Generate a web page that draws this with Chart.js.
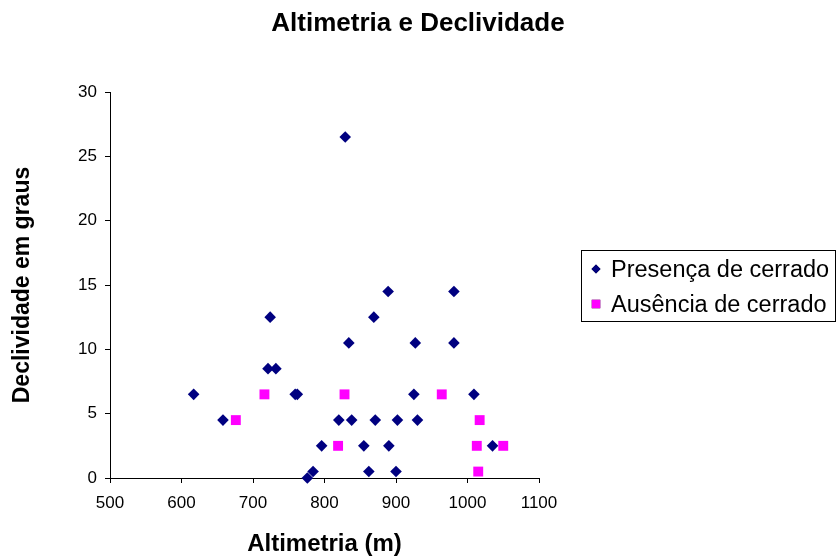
<!DOCTYPE html>
<html>
<head>
<meta charset="utf-8">
<script src="https://cdn.jsdelivr.net/npm/chart.js@4/dist/chart.umd.min.js"></script>
<style>
  html, body { margin: 0; padding: 0; background: #ffffff; }
  #wrap { width: 837px; height: 557px; }
</style>
</head>
<body>
<div id="wrap"><canvas id="c" width="837" height="557"></canvas></div>
<script>
// ---- Data ----
const chartTitle = "Altimetria e Declividade";
const xAxisTitle = "Altimetria (m)";
const yAxisTitle = "Declividade em graus";
const seriesNames = ["Presença de cerrado", "Ausência de cerrado"];

const presenceAlt = [617, 658, 721, 724, 732, 759, 762, 776, 784, 796, 820, 829, 834, 838, 855, 862, 869, 871, 889, 890, 900, 902, 925, 927, 930, 981, 981, 1009, 1035];
const presenceDecl = [6.5, 4.5, 8.5, 12.5, 8.5, 6.5, 6.5, 0, 0.5, 2.5, 4.5, 26.5, 10.5, 4.5, 2.5, 0.5, 12.5, 4.5, 14.5, 2.5, 0.5, 4.5, 6.5, 10.5, 4.5, 14.5, 10.5, 6.5, 2.5];

const absenceAlt = [676, 716, 819, 828, 964, 1013, 1015, 1017, 1050];
const absenceDecl = [4.5, 6.5, 2.5, 6.5, 6.5, 2.5, 0.5, 4.5, 2.5];

const xTicks = [500, 600, 700, 800, 900, 1000, 1100];
const yTicks = [0, 5, 10, 15, 20, 25, 30];

// ---- Build chart ----
const FONT = '"Liberation Sans", Arial, Helvetica, sans-serif';
const NAVY = '#000080';
const MAGENTA = '#FF00FF';

function toPoints(xs, ys) { return xs.map((x, i) => ({ x: x, y: ys[i] })); }

const titleAndLegend = {
  id: 'titleAndLegend',
  afterDraw(chart) {
    const ctx = chart.ctx;
    ctx.save();
    // Title
    ctx.fillStyle = '#000';
    ctx.font = 'bold 26px ' + FONT;
    ctx.textAlign = 'center';
    ctx.textBaseline = 'middle';
    ctx.fillText(chartTitle, 418, 24);

    // Legend box
    ctx.strokeStyle = '#000';
    ctx.lineWidth = 1;
    ctx.strokeRect(581.5, 250.5, 254, 71);

    const rows = [
      { y: 269, style: 'rectRot', color: NAVY, r: 4.5 },
      { y: 304, style: 'rect', color: MAGENTA, r: 6 }
    ];
    rows.forEach((row, i) => {
      Chart.helpers.drawPoint(ctx, {
        pointStyle: row.style, radius: row.r, rotation: 0, borderWidth: 0
      }, 596, row.y);
      ctx.fillStyle = row.color;
      ctx.fill();
      ctx.fillStyle = '#000';
      ctx.font = '23.5px ' + FONT;
      ctx.textAlign = 'left';
      ctx.textBaseline = 'alphabetic';
      ctx.fillText(seriesNames[i], 611, row.y + 8);
    });
    ctx.restore();
  }
};

new Chart(document.getElementById('c'), {
  type: 'scatter',
  data: {
    datasets: [
      {
        label: seriesNames[0],
        data: toPoints(presenceAlt, presenceDecl),
        pointStyle: 'rectRot',
        pointRadius: 5.8,
        pointHoverRadius: 5.8,
        backgroundColor: NAVY,
        borderColor: NAVY,
        borderWidth: 0,
        clip: false,
        order: 1
      },
      {
        label: seriesNames[1],
        data: toPoints(absenceAlt, absenceDecl),
        pointStyle: 'rect',
        pointRadius: 7,
        pointHoverRadius: 7,
        backgroundColor: MAGENTA,
        borderColor: MAGENTA,
        borderWidth: 0,
        clip: false,
        order: 0
      }
    ]
  },
  options: {
    responsive: false,
    animation: false,
    events: [],
    layout: { padding: { left: 0, top: 92, right: 298, bottom: 0 } },
    plugins: {
      legend: { display: false },
      title: { display: false },
      tooltip: { enabled: false }
    },
    scales: {
      x: {
        type: 'linear',
        min: xTicks[0],
        max: xTicks[xTicks.length - 1],
        afterFit(scale) { scale.height = 79; },
        afterBuildTicks(scale) { scale.ticks = xTicks.map(v => ({ value: v })); },
        ticks: {
          color: '#000',
          font: { family: FONT, size: 17 },
          padding: 10,
          maxRotation: 0,
          autoSkip: false,
          callback: (v) => String(v)
        },
        grid: {
          drawOnChartArea: false,
          drawTicks: true,
          tickLength: 5,
          color: '#000',
          lineWidth: 1
        },
        border: { display: true, color: '#000', width: 1 },
        title: {
          display: true,
          text: xAxisTitle,
          color: '#000',
          font: { family: FONT, size: 24, weight: 'bold', lineHeight: 1 },
          padding: { top: 0, bottom: 1 }
        }
      },
      y: {
        type: 'linear',
        min: yTicks[0],
        max: yTicks[yTicks.length - 1],
        afterFit(scale) { scale.width = 110; },
        afterBuildTicks(scale) { scale.ticks = yTicks.map(v => ({ value: v })); },
        ticks: {
          color: '#000',
          font: { family: FONT, size: 17 },
          padding: 8,
          autoSkip: false,
          callback: (v) => String(v)
        },
        grid: {
          drawOnChartArea: false,
          drawTicks: true,
          tickLength: 5,
          color: '#000',
          lineWidth: 1
        },
        border: { display: true, color: '#000', width: 1 },
        title: {
          display: true,
          text: yAxisTitle,
          color: '#000',
          font: { family: FONT, size: 23, weight: 'bold', lineHeight: 1 },
          padding: { top: 11, bottom: 0 }
        }
      }
    }
  },
  plugins: [titleAndLegend]
});
</script>
</body>
</html>
